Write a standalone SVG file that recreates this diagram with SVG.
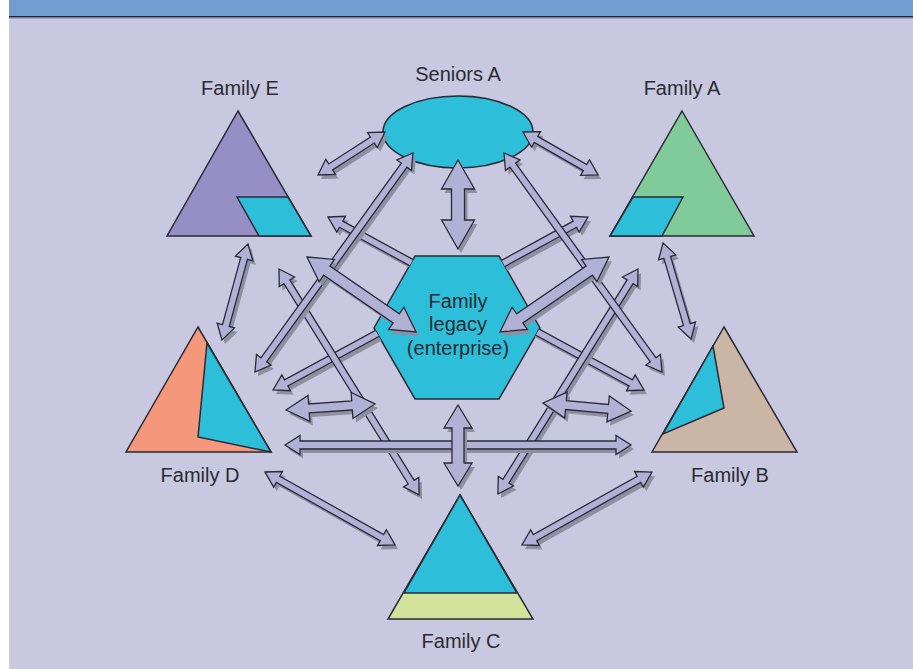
<svg xmlns="http://www.w3.org/2000/svg" xmlns:xlink="http://www.w3.org/1999/xlink" width="913" height="669" viewBox="0 0 913 669">
<style>
.lbl{font-family:"Liberation Sans",Arial,sans-serif;font-size:20px;fill:#2b2b33;text-anchor:middle}
.shape{stroke:#2a2a33;stroke-width:1.5;stroke-linejoin:miter}
.ar{fill:#b1b1d6;stroke:#2a2a36;stroke-width:1.3;stroke-linejoin:miter}
.sh{fill:#8f8fa2;stroke:none}
.cyan{fill:#2dbed9}
</style>
<defs>
<clipPath id="outHex"><path clip-rule="evenodd" d="M0,0H913V669H0Z M415,256 L499,256 L540,328 L499,399 L415,399 L374,328Z"/></clipPath>
<polygon id="p1" transform="translate(318,175) rotate(-32.7)" points="0,0 15,-9 15,-3.5 64.6,-3.5 64.6,-9 79.6,0 64.6,9 64.6,3.5 15,3.5 15,9"/>
<polygon id="p2" transform="translate(523,132) rotate(29.8)" points="0,0 15,-9 15,-3.5 71.5,-3.5 71.5,-9 86.5,0 71.5,9 71.5,3.5 15,3.5 15,9"/>
<polygon id="p3" transform="translate(458,160) rotate(90)" points="0,0 29,-16.5 29,-6.5 60,-6.5 60,-16.5 89,0 60,16.5 60,6.5 29,6.5 29,16.5"/>
<polygon id="p4" transform="translate(255,372) rotate(-54.2)" points="0,0 15,-9 15,-3.5 255,-3.5 255,-9 270,0 255,9 255,3.5 15,3.5 15,9"/>
<polygon id="p5" transform="translate(504,153) rotate(54.2)" points="0,0 15,-9 15,-3.5 255,-3.5 255,-9 270,0 255,9 255,3.5 15,3.5 15,9"/>
<polygon id="p6" transform="translate(328,217) rotate(28.7)" points="0,0 15,-9 15,-3.5 130,-3.5 130,3.5 15,3.5 15,9"/>
<polygon id="p7" transform="translate(588,217) rotate(151.3)" points="0,0 15,-9 15,-3.5 130,-3.5 130,3.5 15,3.5 15,9"/>
<polygon id="p8" transform="translate(307,257) rotate(34.5)" points="0,0 24,-13.5 24,-5.5 108.3,-5.5 108.3,-13.5 132.3,0 108.3,13.5 108.3,5.5 24,5.5 24,13.5"/>
<polygon id="p9" transform="translate(609,257) rotate(145.5)" points="0,0 24,-13.5 24,-5.5 108.3,-5.5 108.3,-13.5 132.3,0 108.3,13.5 108.3,5.5 24,5.5 24,13.5"/>
<polygon id="p10" transform="translate(273,390) rotate(-28.5)" points="0,0 15,-9 15,-3.5 130,-3.5 130,3.5 15,3.5 15,9"/>
<polygon id="p11" transform="translate(644,390) rotate(-151.5)" points="0,0 15,-9 15,-3.5 130,-3.5 130,3.5 15,3.5 15,9"/>
<polygon id="p12" transform="translate(248,244) rotate(105.2)" points="0,0 15,-9 15,-3.5 84.5,-3.5 84.5,-9 99.5,0 84.5,9 84.5,3.5 15,3.5 15,9"/>
<polygon id="p13" transform="translate(663,243) rotate(73.7)" points="0,0 15,-9 15,-3.5 85,-3.5 85,-9 100,0 85,9 85,3.5 15,3.5 15,9"/>
<polygon id="p14" transform="translate(279,269) rotate(58.2)" points="0,0 15,-9 15,-3.5 250.8,-3.5 250.8,-9 265.8,0 250.8,9 250.8,3.5 15,3.5 15,9"/>
<polygon id="p15" transform="translate(638,269) rotate(121.9)" points="0,0 15,-9 15,-3.5 250,-3.5 250,-9 265,0 250,9 250,3.5 15,3.5 15,9"/>
<polygon id="p16" transform="translate(265,472) rotate(29.3)" points="0,0 15,-9 15,-3.5 134.1,-3.5 134.1,-9 149.1,0 134.1,9 134.1,3.5 15,3.5 15,9"/>
<polygon id="p17" transform="translate(652,472) rotate(150.7)" points="0,0 15,-9 15,-3.5 134.1,-3.5 134.1,-9 149.1,0 134.1,9 134.1,3.5 15,3.5 15,9"/>
<polygon id="p18" transform="translate(285,445)" points="0,0 15,-9.5 15,-4 331,-4 331,-9.5 346,0 331,9.5 331,4 15,4 15,9.5"/>
<polygon id="p19" transform="translate(458,405) rotate(90)" points="0,0 23,-14 23,-6 58,-6 58,-14 81,0 58,14 58,6 23,6 23,14"/>
<polygon id="p20" transform="translate(286,410) rotate(-3.9)" points="0,0 23,-13 23,-4.5 66.2,-4.5 66.2,-13 89.2,0 66.2,13 66.2,4.5 23,4.5 23,13"/>
<polygon id="p21" transform="translate(543,403) rotate(5.2)" points="0,0 23,-13 23,-4.5 65.4,-4.5 65.4,-13 88.4,0 65.4,13 65.4,4.5 23,4.5 23,13"/>
</defs>

<rect x="0" y="0" width="913" height="669" fill="#ffffff"/>
<rect x="9" y="0" width="904" height="669" fill="#c8c8e0"/>
<rect x="9" y="0" width="904" height="16" fill="#729dd0"/>
<rect x="9" y="16" width="904" height="1.6" fill="#1c2640"/>
<rect x="9" y="17.6" width="904" height="1.2" fill="#9a9aae"/>

<g id="seniors-a">
<ellipse class="shape cyan" cx="458" cy="132" rx="75" ry="36"/>
<text class="lbl" x="458" y="81">Seniors A</text>
</g>

<g id="family-e">
<polygon class="shape" fill="#968fc6" points="238,111 311,236 167,236"/>
<polygon class="shape cyan" points="237,197 288,197 311,236 259,236"/>
<text class="lbl" x="240" y="95">Family E</text>
</g>

<g id="family-a">
<polygon class="shape" fill="#81cb9b" points="682,111 754,236 610,236"/>
<polygon class="shape cyan" points="633,197 683,197 662,236 610,236"/>
<text class="lbl" x="682" y="95">Family A</text>
</g>

<g id="family-d">
<polygon class="shape" fill="#f5977b" points="198,327 271,452 126,452"/>
<polygon class="shape cyan" points="207,343 271,452 198,437"/>
<text class="lbl" x="200" y="482">Family D</text>
</g>

<g id="family-b">
<polygon class="shape" fill="#cbb6a6" points="724,327 797,452 652,452"/>
<polygon class="shape cyan" points="713,346 724,408 663,434"/>
<text class="lbl" x="730" y="482">Family B</text>
</g>

<g id="family-c">
<polygon class="shape" fill="#d3e39b" points="460,495 533,619 388,619"/>
<polygon class="shape cyan" points="460,495 517,593 404,593"/>
<text class="lbl" x="461" y="648">Family C</text>
</g>

<g id="family-legacy">
<polygon class="shape cyan" points="415,256 499,256 540,328 499,399 415,399 374,328"/>
<text class="lbl" x="458" y="308">Family</text>
<text class="lbl" x="458" y="331">legacy</text>
<text class="lbl" x="458" y="355">(enterprise)</text>
</g>

<g id="connectors">
<g id="c6" clip-path="url(#outHex)"><use xlink:href="#p6" href="#p6" class="sh" transform="translate(3,4)"/><use xlink:href="#p6" href="#p6" class="ar"/></g>
<g id="c7" clip-path="url(#outHex)"><use xlink:href="#p7" href="#p7" class="sh" transform="translate(3,4)"/><use xlink:href="#p7" href="#p7" class="ar"/></g>
<g id="c10" clip-path="url(#outHex)"><use xlink:href="#p10" href="#p10" class="sh" transform="translate(3,4)"/><use xlink:href="#p10" href="#p10" class="ar"/></g>
<g id="c11" clip-path="url(#outHex)"><use xlink:href="#p11" href="#p11" class="sh" transform="translate(3,4)"/><use xlink:href="#p11" href="#p11" class="ar"/></g>
<g id="c1"><use xlink:href="#p1" href="#p1" class="sh" transform="translate(3,4)"/><use xlink:href="#p1" href="#p1" class="ar"/></g>
<g id="c2"><use xlink:href="#p2" href="#p2" class="sh" transform="translate(3,4)"/><use xlink:href="#p2" href="#p2" class="ar"/></g>
<g id="c12"><use xlink:href="#p12" href="#p12" class="sh" transform="translate(3,4)"/><use xlink:href="#p12" href="#p12" class="ar"/></g>
<g id="c13"><use xlink:href="#p13" href="#p13" class="sh" transform="translate(3,4)"/><use xlink:href="#p13" href="#p13" class="ar"/></g>
<g id="c16"><use xlink:href="#p16" href="#p16" class="sh" transform="translate(3,4)"/><use xlink:href="#p16" href="#p16" class="ar"/></g>
<g id="c17"><use xlink:href="#p17" href="#p17" class="sh" transform="translate(3,4)"/><use xlink:href="#p17" href="#p17" class="ar"/></g>
<g id="c14"><use xlink:href="#p14" href="#p14" class="sh" transform="translate(3,4)"/><use xlink:href="#p14" href="#p14" class="ar"/></g>
<g id="c15"><use xlink:href="#p15" href="#p15" class="sh" transform="translate(3,4)"/><use xlink:href="#p15" href="#p15" class="ar"/></g>
<g id="c18"><use xlink:href="#p18" href="#p18" class="sh" transform="translate(3,4)"/><use xlink:href="#p18" href="#p18" class="ar"/></g>
<g id="c4"><use xlink:href="#p4" href="#p4" class="sh" transform="translate(3,4)"/><use xlink:href="#p4" href="#p4" class="ar"/></g>
<g id="c5"><use xlink:href="#p5" href="#p5" class="sh" transform="translate(3,4)"/><use xlink:href="#p5" href="#p5" class="ar"/></g>
<g id="c8"><use xlink:href="#p8" href="#p8" class="sh" transform="translate(3,4)"/><use xlink:href="#p8" href="#p8" class="ar"/></g>
<g id="c9"><use xlink:href="#p9" href="#p9" class="sh" transform="translate(3,4)"/><use xlink:href="#p9" href="#p9" class="ar"/></g>
<g id="c20"><use xlink:href="#p20" href="#p20" class="sh" transform="translate(3,4)"/><use xlink:href="#p20" href="#p20" class="ar"/></g>
<g id="c21"><use xlink:href="#p21" href="#p21" class="sh" transform="translate(3,4)"/><use xlink:href="#p21" href="#p21" class="ar"/></g>
<g id="c3"><use xlink:href="#p3" href="#p3" class="sh" transform="translate(3,4)"/><use xlink:href="#p3" href="#p3" class="ar"/></g>
<g id="c19"><use xlink:href="#p19" href="#p19" class="sh" transform="translate(3,4)"/><use xlink:href="#p19" href="#p19" class="ar"/></g>
</g>
</svg>
